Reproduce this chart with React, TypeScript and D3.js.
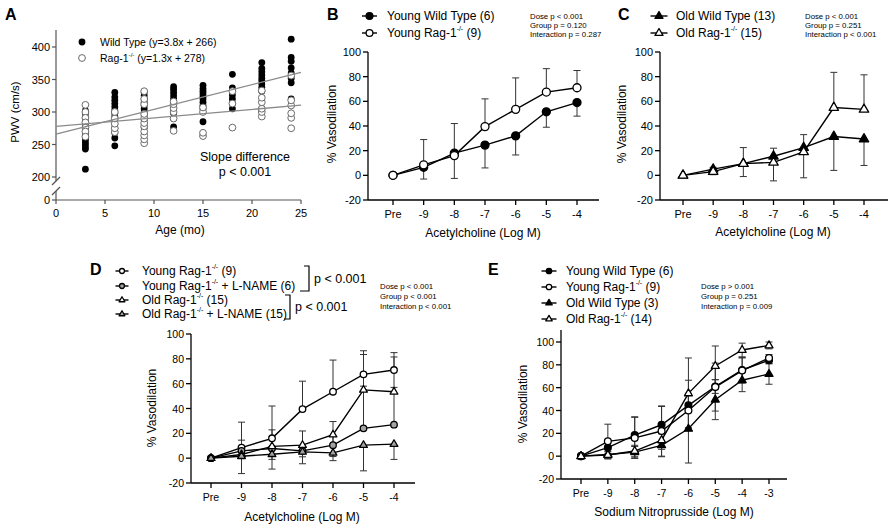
import React from "react";
import * as d3 from "d3";

const FONT = "'Liberation Sans', Arial, Helvetica, sans-serif";

// ---------- Panel A data ----------
const ages = [3, 6, 9, 12, 15, 18, 21, 24];
const wtPwv = [
  [212, 243, 246, 250, 254, 258, 262, 266, 270, 274, 280, 285, 292, 298, 302],
  [248, 260, 268, 275, 282, 288, 293, 298, 303, 308, 313, 318, 323, 330],
  [276, 288, 294, 300, 305, 310, 315, 320, 325, 330],
  [277, 290, 298, 304, 310, 315, 320, 325, 330, 335, 339],
  [285, 305, 310, 315, 320, 324, 328, 332, 336, 341],
  [305, 313, 320, 326, 332, 337, 358],
  [305, 332, 338, 343, 348, 352, 357, 362, 367, 376],
  [320, 345, 352, 360, 368, 378, 384, 412],
];
const ragPwv = [
  [311, 300, 291, 284, 276, 270, 262],
  [269, 275, 282, 290, 300],
  [252, 258, 264, 270, 278, 283, 290, 297, 312, 320, 332],
  [271, 290, 300, 306, 312, 316],
  [263, 268, 300, 307],
  [276, 313, 332],
  [293, 300, 305, 315, 322, 333],
  [275, 291, 298, 310, 318, 356],
];
const wtFit = [3.8, 266];
const ragFit = [1.3, 278];
const aXTicks = [0, 5, 10, 15, 20, 25];
const aYTicks = [200, 250, 300, 350, 400];

// ---------- Panels B-E data ----------
const achDoses = ["Pre", "-9", "-8", "-7", "-6", "-5", "-4"];
const snpDoses = ["Pre", "-9", "-8", "-7", "-6", "-5", "-4", "-3"];
const vasoTicks = [-20, 0, 20, 40, 60, 80, 100];

const youngWT = [0, 6.5, 18, 24.5, 32, 51.5, 59];
const youngWTErr = [0, -9.5, -20.5, -18.5, -15.5, -12.5, -11];
const youngRag = [0, 8.5, 16, 39.5, 53.5, 67.5, 71];
const youngRagErr = [0, 20.5, 26, 22.5, 25.5, 19, 14];

const oldWT = [0, 5, 9.5, 15.5, 22.5, 31.5, 29.5];
const oldWTErr = [0, 1.5, 13, 6.5, 10.5, -27.5, -21.5];
const oldRag = [0, 3, 9.5, 10.5, 19, 55, 53.5];
const oldRagErr = [0, -2.5, -10.5, -15, -21, 28.5, 28];

const youngRagLN = [0, 5.9, 7.8, 5.9, 10.5, 24, 27];
const youngRagLNErr = [0, 8.6, 15, 16, 19, 34, 30];
const oldRagLN = [0, 1.6, 3.2, 5.1, 4.3, 10.5, 11.3];
const oldRagLNErr = [0, -14, -12, -4, -3, -20.7, -12.3];

const snpYoungWT = [0, 7.5, 18.5, 27.5, 44.5, 61, 75.5, 84];
const snpYoungWTErr = [1, 5, 16, 16, 22, 6, 11, 3];
const snpYoungRag = [0, 13, 16, 22, 40, 60.5, 75, 86];
const snpYoungRagErr = [1, 15, 18, 22, 15, 21, 11, 3];
const snpOldWT = [0, 1.5, 3.5, 9.5, 24, 49.5, 66.5, 72];
const snpOldWTErr = [1, 4, 5, 10, 30, 17.5, 10, 9];
const snpOldRag = [0, 1, 4.5, 14, 55, 79, 93, 97];
const snpOldRagErr = [1, 3, 5, 8, 31, 17.5, 6, 3];

const statsB = ["Dose p < 0.001", "Group p = 0.120", "Interaction p = 0.287"];
const statsC = ["Dose p < 0.001", "Group p = 0.251", "Interaction p < 0.001"];
const statsD = ["Dose p < 0.001", "Group p < 0.001", "Interaction p < 0.001"];
const statsE = ["Dose p > 0.001", "Group p = 0.251", "Interaction p = 0.009"];

type Series = {
  label: string;
  values: number[];
  err: number[];
  both?: boolean;
  marker: "circle" | "triangle";
  fill: string;
};

const GREY = "#a3a3a3";

// ---------- helpers ----------
function SupText(props: {
  x: number;
  y: number;
  text: string;
  fontSize: number;
  anchor?: string;
}) {
  const { x, y, text, fontSize, anchor } = props;
  const parts = text.split("^");
  const shift = fontSize * 0.38;
  return (
    <text
      x={x}
      y={y}
      fontSize={fontSize}
      textAnchor={anchor || "start"}
      dominantBaseline="central"
      fill="#000"
    >
      {parts.map((p, i) =>
        i % 2 === 1 ? (
          <tspan key={i} fontSize={fontSize * 0.58} dy={-shift}>
            {p}
          </tspan>
        ) : (
          <tspan key={i} dy={i > 0 ? shift : 0}>
            {p}
          </tspan>
        )
      )}
    </text>
  );
}

function Marker(props: { x: number; y: number; type: string; fill: string; s?: number }) {
  const { x, y, type, fill } = props;
  const s = props.s ?? 1;
  if (type === "circle") {
    return <circle cx={x} cy={y} r={4 * s} fill={fill} stroke="#000" strokeWidth={1.3} />;
  }
  const pts = [
    [x, y - 5.3 * s],
    [x + 4.7 * s, y + 2.8 * s],
    [x - 4.7 * s, y + 2.8 * s],
  ]
    .map((p) => p.join(","))
    .join(" ");
  return <polygon points={pts} fill={fill} stroke="#000" strokeWidth={1.3} strokeLinejoin="round" />;
}

type PanelProps = {
  letter: string;
  letterX: number;
  letterY: number;
  doses: string[];
  series: Series[];
  yAxisX: number;
  xAxisEnd: number;
  firstX: number;
  lastX: number;
  y100: number;
  yMinus20: number;
  axisTop: number;
  tickFont: number;
  tickLabelY: number;
  xTitle: string;
  xTitleX: number;
  xTitleY: number;
  yTitleX: number;
  yTitleY: number;
  legendMarkerX: number;
  legendTextX: number;
  legendYs: number[];
  legendFont: number;
  legendScale: number;
  legendHalf: number;
  markerScale: number;
  stats: string[];
  statsX: number;
  statsY: number;
  statsGap: number;
};

function DosePanel(p: PanelProps) {
  const x = d3.scalePoint<string>().domain(p.doses).range([p.firstX, p.lastX]);
  const y = d3.scaleLinear().domain([-20, 100]).range([p.yMinus20, p.y100]);
  const line = d3
    .line<number>()
    .x((_, i) => x(p.doses[i]) as number)
    .y((v) => y(v));
  const cap = 3.5;
  return (
    <g>
      <text x={p.letterX} y={p.letterY} fontSize={16} fontWeight="bold">
        {p.letter}
      </text>
      {/* axes */}
      <line x1={p.yAxisX} x2={p.yAxisX} y1={p.axisTop} y2={p.yMinus20} stroke="#000" strokeWidth={1.3} />
      <line x1={p.yAxisX} x2={p.xAxisEnd} y1={p.yMinus20} y2={p.yMinus20} stroke="#000" strokeWidth={1.3} />
      {vasoTicks.map((t) => (
        <g key={t}>
          <line x1={p.yAxisX - 5} x2={p.yAxisX} y1={y(t)} y2={y(t)} stroke="#000" strokeWidth={1.3} />
          <text
            x={p.yAxisX - 7}
            y={y(t)}
            fontSize={p.tickFont}
            textAnchor="end"
            dominantBaseline="central"
          >
            {t}
          </text>
        </g>
      ))}
      {p.doses.map((d) => (
        <g key={d}>
          <line
            x1={x(d)}
            x2={x(d)}
            y1={p.yMinus20}
            y2={p.yMinus20 + 5}
            stroke="#000"
            strokeWidth={1.3}
          />
          <text
            x={x(d)}
            y={p.tickLabelY}
            fontSize={p.tickFont}
            textAnchor="middle"
            dominantBaseline="central"
          >
            {d}
          </text>
        </g>
      ))}
      <text x={p.xTitleX} y={p.xTitleY} fontSize={12} textAnchor="middle" dominantBaseline="central">
        {p.xTitle}
      </text>
      <text
        transform={`translate(${p.yTitleX},${p.yTitleY}) rotate(-90)`}
        fontSize={12}
        textAnchor="middle"
        dominantBaseline="central"
      >
        % Vasodilation
      </text>
      {/* error bars */}
      {p.series.map((s, si) =>
        s.values.map((v, i) => {
          const e = s.err[i];
          if (!e) return null;
          const cx = x(p.doses[i]) as number;
          const ends = s.both ? [v - e, v + e] : [v + e];
          const lo = s.both ? v - e : Math.min(v, v + e);
          const hi = s.both ? v + e : Math.max(v, v + e);
          return (
            <g key={`e${si}-${i}`} stroke="#333" strokeWidth={1}>
              <line x1={cx} x2={cx} y1={y(lo)} y2={y(hi)} />
              {ends.map((ev, k) => (
                <line key={k} x1={cx - cap} x2={cx + cap} y1={y(ev)} y2={y(ev)} />
              ))}
            </g>
          );
        })
      )}
      {/* lines and markers */}
      {p.series.map((s, si) => (
        <g key={`s${si}`}>
          <path d={line(s.values) || ""} fill="none" stroke="#000" strokeWidth={1.4} />
          {s.values.map((v, i) => (
            <Marker
              key={i}
              x={x(p.doses[i]) as number}
              y={y(v)}
              type={s.marker}
              fill={s.fill}
              s={p.markerScale}
            />
          ))}
        </g>
      ))}
      {/* legend */}
      {p.series.map((s, si) => (
        <g key={`l${si}`}>
          <line
            x1={p.legendMarkerX - p.legendHalf}
            x2={p.legendMarkerX + p.legendHalf}
            y1={p.legendYs[si]}
            y2={p.legendYs[si]}
            stroke="#000"
            strokeWidth={1.4}
          />
          <Marker
            x={p.legendMarkerX}
            y={p.legendYs[si]}
            type={s.marker}
            fill={s.fill}
            s={p.legendScale}
          />
          <SupText x={p.legendTextX} y={p.legendYs[si]} text={s.label} fontSize={p.legendFont} />
        </g>
      ))}
      {p.stats.map((t, i) => (
        <text
          key={t}
          x={p.statsX}
          y={p.statsY + i * p.statsGap}
          fontSize={7.8}
          dominantBaseline="central"
        >
          {t}
        </text>
      ))}
    </g>
  );
}

function PanelA() {
  const x = d3.scaleLinear().domain([0, 25]).range([56, 301]);
  const y = d3.scaleLinear().domain([200, 400]).range([177, 47]);
  const axisX = x(0);
  const zeroY = 200;
  const fit = (f: number[]) => (
    <line
      x1={x(0)}
      x2={x(25)}
      y1={y(f[1])}
      y2={y(f[0] * 25 + f[1])}
      stroke="#8a8a8a"
      strokeWidth={1.3}
    />
  );
  return (
    <g>
      <text x={5} y={20} fontSize={16} fontWeight="bold">
        A
      </text>
      {/* y axis with break */}
      <line x1={axisX} x2={axisX} y1={30} y2={181} stroke="#555" strokeWidth={1.2} />
      <line x1={axisX} x2={axisX} y1={191} y2={zeroY} stroke="#555" strokeWidth={1.2} />
      <line x1={axisX - 4} x2={axisX + 4} y1={185} y2={177} stroke="#555" strokeWidth={1.2} />
      <line x1={axisX - 4} x2={axisX + 4} y1={195} y2={187} stroke="#555" strokeWidth={1.2} />
      <line x1={axisX} x2={301} y1={zeroY} y2={zeroY} stroke="#555" strokeWidth={1.2} />
      {aYTicks.map((t) => (
        <g key={t}>
          <line x1={axisX - 4} x2={axisX} y1={y(t)} y2={y(t)} stroke="#555" strokeWidth={1.2} />
          <text x={axisX - 6} y={y(t)} fontSize={11} textAnchor="end" dominantBaseline="central">
            {t}
          </text>
        </g>
      ))}
      <line x1={axisX - 4} x2={axisX} y1={zeroY} y2={zeroY} stroke="#555" strokeWidth={1.2} />
      <text x={axisX - 6} y={zeroY} fontSize={11} textAnchor="end" dominantBaseline="central">
        0
      </text>
      {aXTicks.map((t) => (
        <g key={t}>
          <line x1={x(t)} x2={x(t)} y1={zeroY} y2={zeroY + 4} stroke="#555" strokeWidth={1.2} />
          <text x={x(t)} y={213} fontSize={11} textAnchor="middle" dominantBaseline="central">
            {t}
          </text>
        </g>
      ))}
      <text x={180} y={230} fontSize={12} textAnchor="middle" dominantBaseline="central">
        Age (mo)
      </text>
      <text
        transform="translate(15,112) rotate(-90)"
        fontSize={11.5}
        textAnchor="middle"
        dominantBaseline="central"
      >
        PWV (cm/s)
      </text>
      {/* points */}
      {ages.map((a, ai) =>
        wtPwv[ai].map((v, i) => <circle key={`w${a}-${i}`} cx={x(a)} cy={y(v)} r={3.4} fill="#000" />)
      )}
      {ages.map((a, ai) =>
        ragPwv[ai].map((v, i) => (
          <circle
            key={`r${a}-${i}`}
            cx={x(a)}
            cy={y(v)}
            r={3.4}
            fill="#fff"
            stroke="#6a6a6a"
            strokeWidth={1}
          />
        ))
      )}
      {fit(wtFit)}
      {fit(ragFit)}
      {/* legend */}
      <circle cx={82} cy={42} r={3.4} fill="#000" />
      <SupText x={100} y={42} text="Wild Type (y=3.8x + 266)" fontSize={10.5} />
      <circle cx={82} cy={58} r={3.4} fill="#fff" stroke="#6a6a6a" strokeWidth={1} />
      <SupText x={100} y={58} text="Rag-1^-/-^ (y=1.3x + 278)" fontSize={10.5} />
      <text x={245} y={157} fontSize={12.5} textAnchor="middle" dominantBaseline="central">
        Slope difference
      </text>
      <text x={245} y={172} fontSize={12.5} textAnchor="middle" dominantBaseline="central">
        p &lt; 0.001
      </text>
    </g>
  );
}

const seriesB: Series[] = [
  { label: "Young Wild Type (6)", values: youngWT, err: youngWTErr, marker: "circle", fill: "#000" },
  { label: "Young Rag-1^-/-^ (9)", values: youngRag, err: youngRagErr, marker: "circle", fill: "#fff" },
];
const seriesC: Series[] = [
  { label: "Old Wild Type (13)", values: oldWT, err: oldWTErr, marker: "triangle", fill: "#000" },
  { label: "Old Rag-1^-/-^ (15)", values: oldRag, err: oldRagErr, marker: "triangle", fill: "#fff" },
];
const seriesD: Series[] = [
  { label: "Young Rag-1^-/-^ (9)", values: youngRag, err: youngRagErr, marker: "circle", fill: "#fff" },
  { label: "Young Rag-1^-/-^ + L-NAME (6)", values: youngRagLN, err: youngRagLNErr, marker: "circle", fill: GREY },
  { label: "Old Rag-1^-/-^ (15)", values: oldRag, err: oldRagErr, marker: "triangle", fill: "#fff" },
  { label: "Old Rag-1^-/-^ + L-NAME (15)", values: oldRagLN, err: oldRagLNErr, marker: "triangle", fill: GREY },
];
const seriesE: Series[] = [
  { label: "Young Wild Type (6)", values: snpYoungWT, err: snpYoungWTErr, both: true, marker: "circle", fill: "#000" },
  { label: "Young Rag-1^-/-^ (9)", values: snpYoungRag, err: snpYoungRagErr, both: true, marker: "circle", fill: "#fff" },
  { label: "Old Wild Type (3)", values: snpOldWT, err: snpOldWTErr, both: true, marker: "triangle", fill: "#000" },
  { label: "Old Rag-1^-/-^ (14)", values: snpOldRag, err: snpOldRagErr, both: true, marker: "triangle", fill: "#fff" },
];

export default function App() {
  return (
    <svg
      width={890}
      height={524}
      style={{ position: "fixed", left: 0, top: 0, background: "#fff" }}
      fontFamily={FONT}
    >
      <rect width={890} height={524} fill="#fff" />
      <PanelA />
      <DosePanel
        letter="B"
        letterX={327}
        letterY={20}
        doses={achDoses}
        series={seriesB}
        yAxisX={368}
        xAxisEnd={599}
        firstX={393}
        lastX={577}
        y100={52}
        yMinus20={200}
        axisTop={52}
        tickFont={11}
        tickLabelY={214}
        xTitle="Acetylcholine (Log M)"
        xTitleX={483}
        xTitleY={233}
        yTitleX={332}
        yTitleY={124}
        legendMarkerX={369.5}
        legendTextX={387}
        legendYs={[16, 33]}
        legendFont={12}
        legendScale={0.85}
        legendHalf={7.5}
        markerScale={1}
        stats={statsB}
        statsX={530}
        statsY={16}
        statsGap={9}
      />
      <DosePanel
        letter="C"
        letterX={618}
        letterY={20}
        doses={achDoses}
        series={seriesC}
        yAxisX={660}
        xAxisEnd={888}
        firstX={683}
        lastX={864}
        y100={52}
        yMinus20={200}
        axisTop={52}
        tickFont={11}
        tickLabelY={214}
        xTitle="Acetylcholine (Log M)"
        xTitleX={773}
        xTitleY={232}
        yTitleX={622}
        yTitleY={124}
        legendMarkerX={659}
        legendTextX={676}
        legendYs={[16, 33]}
        legendFont={12}
        legendScale={0.85}
        legendHalf={8.5}
        markerScale={1}
        stats={statsC}
        statsX={805}
        statsY={16}
        statsGap={9}
      />
      <DosePanel
        letter="D"
        letterX={90}
        letterY={275}
        doses={achDoses}
        series={seriesD}
        yAxisX={191}
        xAxisEnd={415}
        firstX={211}
        lastX={394}
        y100={334}
        yMinus20={483}
        axisTop={334}
        tickFont={10.5}
        tickLabelY={497}
        xTitle="Acetylcholine (Log M)"
        xTitleX={302}
        xTitleY={517}
        yTitleX={152}
        yTitleY={408}
        legendMarkerX={122}
        legendTextX={142}
        legendYs={[271, 286, 300, 314]}
        legendFont={12}
        legendScale={0.62}
        legendHalf={6.5}
        markerScale={0.82}
        stats={statsD}
        statsX={380}
        statsY={286}
        statsGap={10}
      />
      {/* D brackets */}
      <g stroke="#000" strokeWidth={1.2} fill="none">
        <polyline points="304,266 309,266 309,291 300,291" />
        <polyline points="285,295 290,295 290,319 284,319" />
      </g>
      <text x={314} y={278.5} fontSize={12.5} dominantBaseline="central">
        p &lt; 0.001
      </text>
      <text x={295} y={307} fontSize={12.5} dominantBaseline="central">
        p &lt; 0.001
      </text>
      <DosePanel
        letter="E"
        letterX={488}
        letterY={275}
        doses={snpDoses}
        series={seriesE}
        yAxisX={561}
        xAxisEnd={787}
        firstX={581}
        lastX={769}
        y100={342}
        yMinus20={479}
        axisTop={330}
        tickFont={10.5}
        tickLabelY={493}
        xTitle="Sodium Nitroprusside (Log M)"
        xTitleX={674}
        xTitleY={512}
        yTitleX={523}
        yTitleY={404}
        legendMarkerX={549}
        legendTextX={566}
        legendYs={[271, 287, 303, 319]}
        legendFont={12}
        legendScale={0.68}
        legendHalf={7.5}
        markerScale={0.85}
        stats={statsE}
        statsX={701}
        statsY={286}
        statsGap={10}
      />
    </svg>
  );
}
